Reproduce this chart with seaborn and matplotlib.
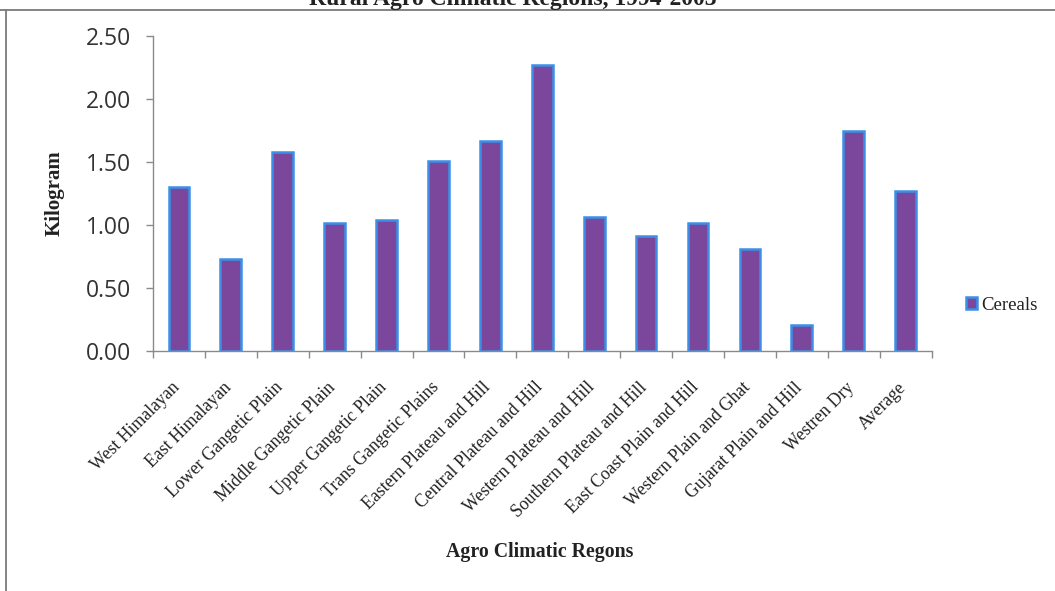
import matplotlib
matplotlib.use("Agg")
import matplotlib.pyplot as plt
import matplotlib.transforms as mtransforms
from matplotlib.lines import Line2D
import seaborn as sns
import pandas as pd

# Per-capita cereal consumption by agro-climatic region (kg)
regions = [
    "West Himalayan", "East Himalayan", "Lower Gangetic Plain",
    "Middle Gangetic Plain", "Upper Gangetic Plain", "Trans Gangetic Plains",
    "Eastern Plateau and Hill", "Central Plateau and Hill",
    "Western Plateau and Hill", "Southern Plateau and Hill",
    "East Coast Plain and Hill", "Western Plain and Ghat",
    "Gujarat Plain and Hill", "Westren Dry", "Average",
]
cereals = [1.30, 0.73, 1.58, 1.02, 1.04, 1.51, 1.67, 2.27,
           1.06, 0.91, 1.02, 0.81, 0.21, 1.75, 1.27]
series_name = "Cereals"
y_ticks = [0.0, 0.5, 1.0, 1.5, 2.0, 2.5]

df = pd.DataFrame({"region": regions, "kg": cereals, "series": series_name})

sns.set_theme(style="white")
plt.rcParams["font.family"] = ["Liberation Serif", "DejaVu Serif"]

fig = plt.figure(figsize=(10.55, 5.91), dpi=100)
fig.patch.set_facecolor("white")
ax = fig.add_axes([0.145, 0.406, 0.738, 0.533])

sns.barplot(data=df, x="region", y="kg", hue="series",
            palette=["#7A479C"], edgecolor="#3B8FE6", linewidth=1.8,
            width=0.4, saturation=1, ax=ax, legend=True)

ax.set_xlim(-0.5, len(regions) - 0.5)
ax.set_ylim(0, 2.5)
ax.set_yticks(y_ticks)
ax.set_yticklabels([f"{v:.2f}" for v in y_ticks],
                   fontfamily="Open Sans", fontsize=16.5, color="#333333")

# category separators as ticks on the x axis
ax.set_xticks(range(len(regions)))
ax.set_xticks([i + 0.5 for i in range(-1, len(regions))], minor=True)
ax.tick_params(axis="x", which="major", length=0, pad=20)
ax.tick_params(axis="x", which="minor", length=5, width=1,
               color="#8a8a8a", direction="out", bottom=True)
ax.tick_params(axis="y", length=5, width=1, color="#8a8a8a",
               direction="out", left=True, pad=11)
ax.set_xticklabels(regions, rotation=45, ha="right", va="top",
                   rotation_mode="anchor", fontsize=12.8, color="#222222")
shift = mtransforms.ScaledTranslation(-8 / 100, 0, fig.dpi_scale_trans)
for lbl in ax.get_xticklabels():
    lbl.set_transform(lbl.get_transform() + shift)

for side in ("top", "right"):
    ax.spines[side].set_visible(False)
for side in ("left", "bottom"):
    ax.spines[side].set_color("#8a8a8a")
    ax.spines[side].set_linewidth(1.0)

ax.set_xlabel("")
ax.set_ylabel("")
fig.text(0.052, 0.673, "Kilogram", rotation=90, ha="center", va="center",
         fontsize=15, fontweight="bold", color="#222222")
fig.text(0.512, 0.066, "Agro Climatic Regons", ha="center", va="center",
         fontsize=14.3, fontweight="bold", color="#222222")

# title line partly above the chart frame
fig.text(0.486, 0.991, "Rural Agro Climatic Regions, 1994-2003",
         ha="center", va="baseline", fontsize=17, fontweight="bold",
         color="#222222")

leg = ax.legend(loc="center left", bbox_to_anchor=(0.907, 0.483),
                bbox_transform=fig.transFigure, frameon=False,
                fontsize=13.5, handlelength=0.55, handleheight=0.6,
                handletextpad=0.25, borderpad=0)
for t in leg.get_texts():
    t.set_color("#222222")

# chart frame lines (top and left)
fig.add_artist(Line2D([0, 1], [1 - 10 / 591, 1 - 10 / 591],
                      transform=fig.transFigure, color="#7a7a7a", lw=1.3))
fig.add_artist(Line2D([6 / 1055, 6 / 1055], [1 - 10 / 591, 0],
                      transform=fig.transFigure, color="#7a7a7a", lw=1.3))

fig.savefig("out.png", dpi=100, facecolor="white")
